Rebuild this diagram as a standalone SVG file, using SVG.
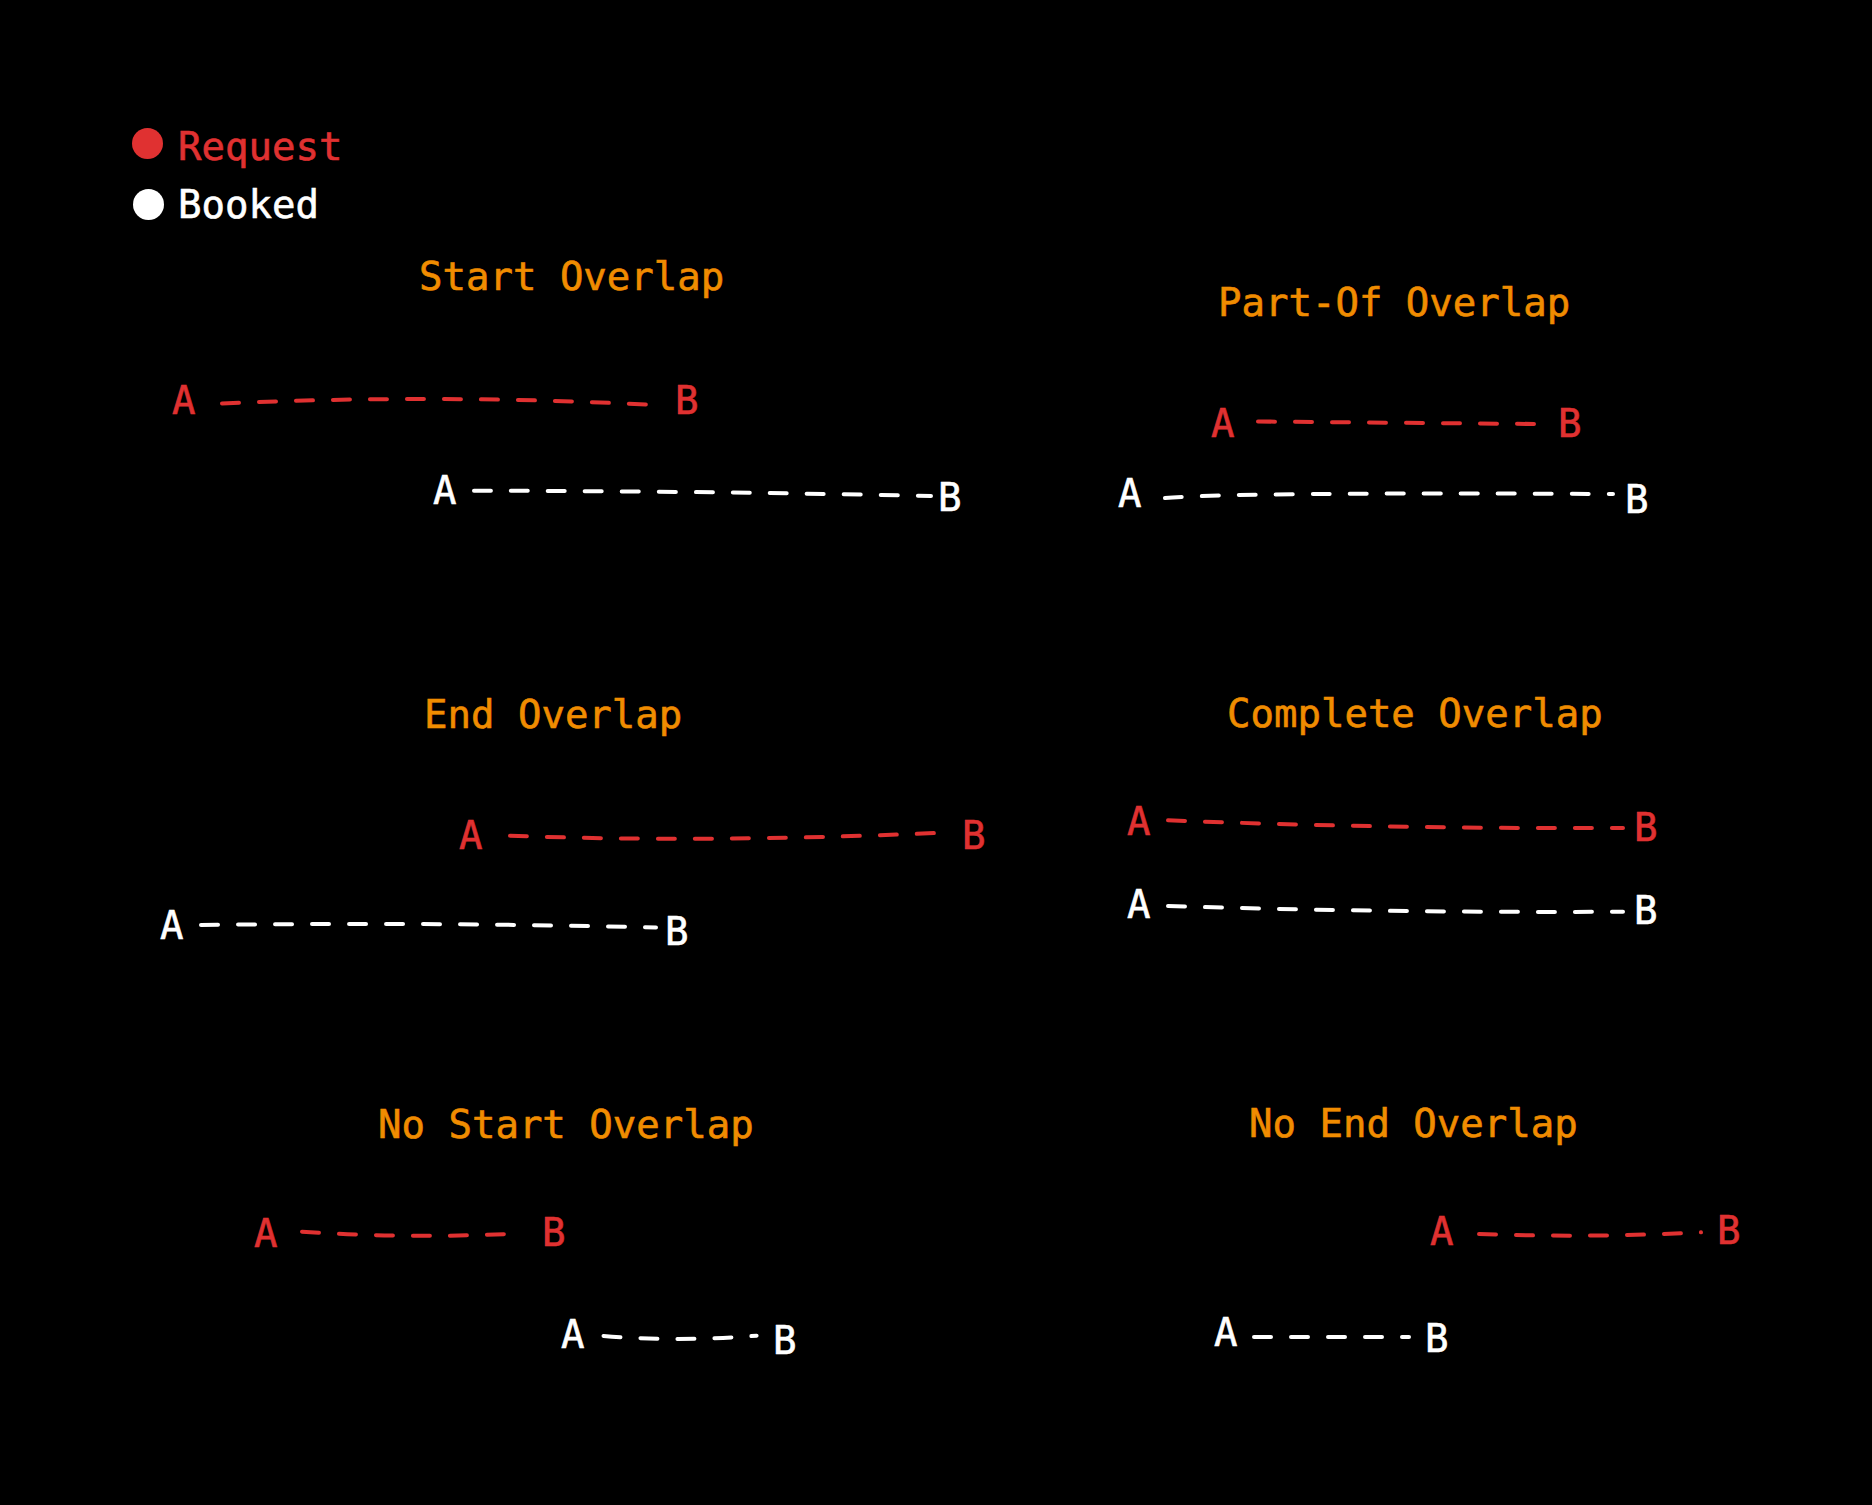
<svg xmlns="http://www.w3.org/2000/svg" width="1872" height="1505" viewBox="0 0 1872 1505">
<style>
text{font-family:"DejaVu Sans Mono","Liberation Mono",monospace;font-size:39px;stroke-width:0.6px}
.t{fill:#f08c00;stroke:#f08c00}
.r{fill:#e03131;stroke:#e03131}
.w{fill:#ffffff;stroke:#ffffff}
.ln{fill:none;stroke-width:4;stroke-dasharray:17 20;stroke-linecap:round}
.lr{stroke:#e03131}
.lw{stroke:#ffffff}
</style>
<rect x="0" y="0" width="1872" height="1505" fill="#000000"/>
<g id="legend">
<circle cx="147.5" cy="143.5" r="15.5" fill="#e03131"/>
<text x="178" y="160" class="r">Request</text>
<circle cx="148.5" cy="204.5" r="15.5" fill="#ffffff"/>
<text x="178" y="218" class="w">Booked</text>
</g>
<g id="titles">
<text id="t-start" x="419" y="290" class="t">Start Overlap</text>
<text id="t-partof" x="1218" y="316" class="t">Part-Of Overlap</text>
<text id="t-end" x="424" y="728" class="t">End Overlap</text>
<text id="t-complete" x="1227" y="727" class="t">Complete Overlap</text>
<text id="t-nostart" x="378" y="1138" class="t">No Start Overlap</text>
<text id="t-noend" x="1249" y="1137" class="t">No End Overlap</text>
</g>
<g id="connectors">
<path class="ln lr" d="M222 403.5 Q434 394 646 404.5"/>
<path class="ln lw" d="M474 490.7 Q700 491 931 496"/>
<path class="ln lr" d="M1258 421.5 L1538 424"/>
<path class="ln lw" d="M1165 498 Q1240 492 1613 494"/>
<path class="ln lr" d="M510 835.7 Q705 843 936 833"/>
<path class="ln lw" d="M201 925 Q430 922 656 927.5"/>
<path class="ln lr" d="M1168 820.3 Q1395 829 1623 828"/>
<path class="ln lw" d="M1168 906 Q1395 913 1623 911.7"/>
<path class="ln lr" d="M302 1231.7 Q412 1239 522 1233.3"/>
<path class="ln lw" d="M603.5 1336 Q680 1342 756.6 1335.7"/>
<path class="ln lr" d="M1479 1234 Q1590 1238 1701 1232.3"/>
<path class="ln lw" d="M1254 1337 L1409 1337"/>
</g>
<g id="node-start-req"><text x="172" y="414" class="r">A</text><text x="675" y="414" class="r">B</text></g>
<g id="node-start-book"><text x="433" y="504" class="w">A</text><text x="938" y="511" class="w">B</text></g>
<g id="node-partof-req"><text x="1211" y="437" class="r">A</text><text x="1558" y="437" class="r">B</text></g>
<g id="node-partof-book"><text x="1118" y="507" class="w">A</text><text x="1625" y="513" class="w">B</text></g>
<g id="node-end-req"><text x="459" y="849" class="r">A</text><text x="962" y="849" class="r">B</text></g>
<g id="node-end-book"><text x="160" y="939" class="w">A</text><text x="665" y="945" class="w">B</text></g>
<g id="node-complete-req"><text x="1127" y="835" class="r">A</text><text x="1634" y="841" class="r">B</text></g>
<g id="node-complete-book"><text x="1127" y="918" class="w">A</text><text x="1634" y="924" class="w">B</text></g>
<g id="node-nostart-req"><text x="254" y="1247" class="r">A</text><text x="542" y="1246" class="r">B</text></g>
<g id="node-nostart-book"><text x="561" y="1348" class="w">A</text><text x="773" y="1354" class="w">B</text></g>
<g id="node-noend-req"><text x="1430" y="1245" class="r">A</text><text x="1717" y="1244" class="r">B</text></g>
<g id="node-noend-book"><text x="1214" y="1346" class="w">A</text><text x="1425" y="1352" class="w">B</text></g>
</svg>
